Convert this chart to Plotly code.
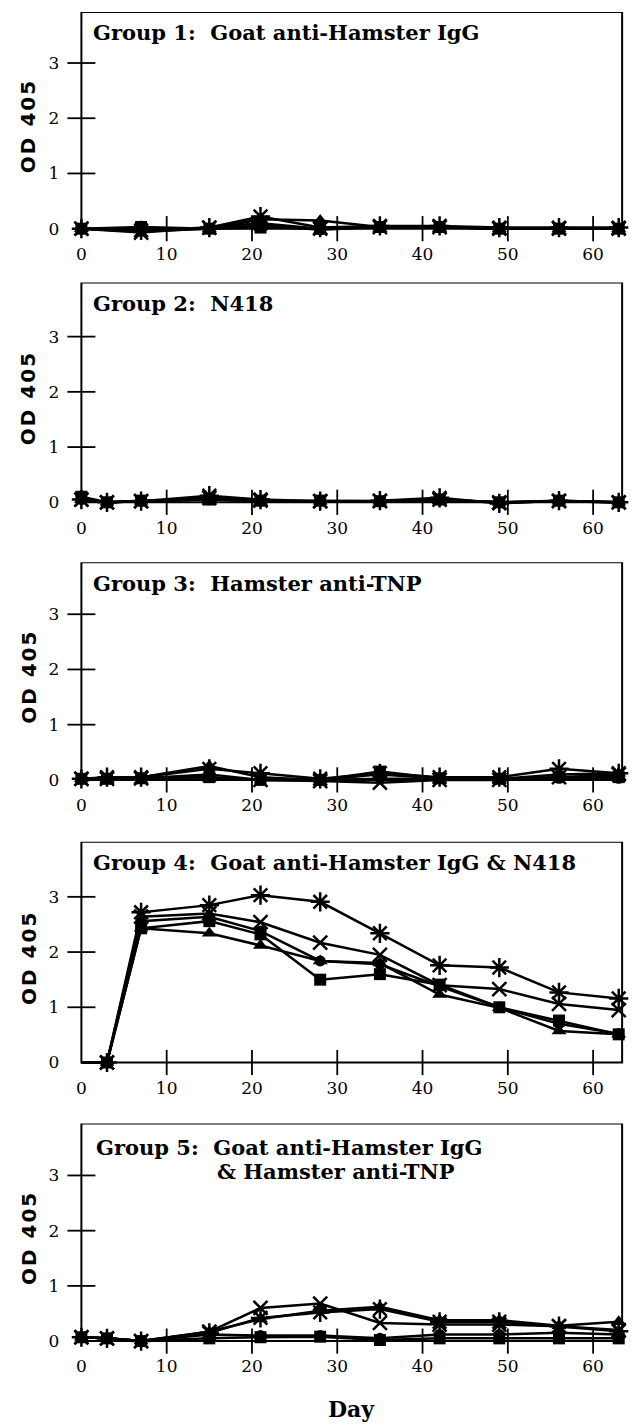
import plotly.graph_objects as go

# ---- data -------------------------------------------------------------
DAYS_G1 = [0, 7, 15, 21, 28, 35, 42, 49, 56, 63]
DAYS = [0, 3, 7, 15, 21, 28, 35, 42, 49, 56, 63]

G1_SQUARE = [0, 0.03, 0.0, 0.02, 0.0, 0.03, 0.03, 0.0, 0.0, 0.0]
G1_TRIANGLE = [0, -0.02, 0.0, 0.17, 0.15, 0.03, 0.03, 0.0, 0.0, 0.0]
G1_CROSS = [0, -0.07, 0.02, 0.10, 0.0, 0.03, 0.03, 0.0, 0.0, 0.0]
G1_STAR = [0, -0.03, 0.02, 0.22, 0.02, 0.05, 0.05, 0.02, 0.02, 0.02]
G1_CIRCLE = [0, -0.05, 0.0, 0.06, -0.02, 0.03, 0.02, 0.0, 0.0, 0.0]

G2_SQUARE = [0.10, 0.0, 0.03, 0.05, 0.03, 0.03, 0.02, 0.05, 0.0, 0.03, 0.0]
G2_TRIANGLE = [0.05, 0.0, 0.02, 0.05, 0.02, 0.02, 0.02, 0.04, 0.0, 0.02, 0.0]
G2_CROSS = [0.05, 0.0, 0.02, 0.08, 0.03, 0.02, 0.02, 0.05, 0.0, 0.02, 0.0]
G2_STAR = [0.05, 0.0, 0.02, 0.12, 0.05, 0.02, 0.03, 0.08, -0.02, 0.03, 0.0]
G2_CIRCLE = [0.05, 0.0, 0.02, 0.06, 0.02, 0.02, 0.02, 0.04, 0.0, 0.02, 0.0]

G3_SQUARE = [0.02, 0.02, 0.03, 0.05, 0.0, 0.0, 0.15, 0.03, 0.02, 0.05, 0.05]
G3_TRIANGLE = [0.02, 0.02, 0.05, 0.25, 0.05, 0.0, 0.10, 0.03, 0.02, 0.10, 0.12]
G3_CROSS = [0.02, 0.02, 0.03, 0.10, 0.0, -0.02, -0.05, 0.0, 0.0, 0.05, 0.10]
G3_STAR = [0.02, 0.05, 0.05, 0.20, 0.12, 0.02, 0.12, 0.05, 0.05, 0.20, 0.12]
G3_CIRCLE = [0.02, 0.02, 0.03, 0.05, 0.0, 0.0, 0.02, 0.02, 0.02, 0.03, 0.03]

G4_SQUARE = [0, 0, 2.43, 2.56, 2.32, 1.50, 1.60, 1.41, 1.00, 0.76, 0.51]
G4_TRIANGLE = [0, 0, 2.43, 2.34, 2.12, 1.84, 1.80, 1.23, 0.99, 0.57, 0.51]
G4_CROSS = [0, 0, 2.64, 2.70, 2.54, 2.17, 1.95, 1.40, 1.33, 1.06, 0.95]
G4_STAR = [0, 0, 2.72, 2.85, 3.03, 2.91, 2.34, 1.76, 1.72, 1.27, 1.16]
G4_CIRCLE = [0, 0, 2.56, 2.64, 2.38, 1.84, 1.78, 1.38, 1.00, 0.70, 0.52]

G5_SQUARE = [0.07, 0.05, 0.0, 0.05, 0.07, 0.08, 0.02, 0.05, 0.05, 0.05, 0.05]
G5_TRIANGLE = [0.07, 0.05, 0.0, 0.17, 0.40, 0.55, 0.62, 0.38, 0.38, 0.28, 0.35]
G5_CROSS = [0.07, 0.05, 0.0, 0.17, 0.60, 0.68, 0.33, 0.30, 0.30, 0.27, 0.20]
G5_STAR = [0.07, 0.05, 0.0, 0.15, 0.42, 0.52, 0.58, 0.35, 0.35, 0.27, 0.18]
G5_CIRCLE = [0.07, 0.05, 0.0, 0.12, 0.10, 0.10, 0.05, 0.12, 0.12, 0.15, 0.12]

PANEL_TITLES = [
    ["Group 1:  Goat anti-Hamster IgG"],
    ["Group 2:  N418"],
    ["Group 3:  Hamster anti-TNP"],
    ["Group 4:  Goat anti-Hamster IgG & N418"],
    ["Group 5:  Goat anti-Hamster IgG", "& Hamster anti-TNP"],
]
X_TICKS = [0, 10, 20, 30, 40, 50, 60]
Y_TICKS = [0, 1, 2, 3]

PANELS = [
    (DAYS_G1, [G1_SQUARE, G1_TRIANGLE, G1_CROSS, G1_STAR, G1_CIRCLE]),
    (DAYS, [G2_SQUARE, G2_TRIANGLE, G2_CROSS, G2_STAR, G2_CIRCLE]),
    (DAYS, [G3_SQUARE, G3_TRIANGLE, G3_CROSS, G3_STAR, G3_CIRCLE]),
    (DAYS, [G4_SQUARE, G4_TRIANGLE, G4_CROSS, G4_STAR, G4_CIRCLE]),
    (DAYS, [G5_SQUARE, G5_TRIANGLE, G5_CROSS, G5_STAR, G5_CIRCLE]),
]
# group 4 curves start at the axis without a symbol on day 0
HIDE_FIRST_MARKER = [False, False, False, True, False]

# ---- styling -----------------------------------------------------------
W, H = 637, 1425
SERIF = "DejaVu Serif"
MARKERS = [
    dict(symbol="square", size=12, line=dict(width=0)),
    dict(symbol="triangle-up", size=13, line=dict(width=0)),
    dict(symbol="x-thin-open", size=14, line=dict(width=2.5, color="black")),
    dict(symbol="asterisk-open", size=16, line=dict(width=2.5, color="black")),
    dict(symbol="circle", size=11, line=dict(width=0)),
]

# pixel layout of each panel: (frame top, zero line)
FRAME_PX = [(12, 229), (283, 503), (563, 781), (843, 1064), (1125, 1343)]
LEFT_PX, RIGHT_PX = 77, 622
UNIT_PX = 55.3
Y_MIN = -0.15
X_RANGE = [0, 63.4]
TITLE_X_PX = [[87], [87], [87], [87], [90, 212]]

fig = go.Figure()
shapes, annotations = [], []
layout = {}

for i, ((days, series), (top, zero)) in enumerate(zip(PANELS, FRAME_PX)):
    n = "" if i == 0 else str(i + 1)
    xa, ya = "x" + n, "y" + n
    y_max = (zero - top) / UNIT_PX
    bottom = zero - Y_MIN * UNIT_PX
    layout["xaxis" + n] = dict(
        domain=[LEFT_PX / W, RIGHT_PX / W], range=X_RANGE, anchor=ya,
        showgrid=False, zeroline=False, showline=False, ticks="",
        tickvals=X_TICKS, ticktext=[str(t) for t in X_TICKS],
        tickfont=dict(family=SERIF, size=17, color="black"),
        ticklabelstandoff=5, fixedrange=True,
    )
    layout["yaxis" + n] = dict(
        domain=[1 - bottom / H, 1 - top / H], range=[Y_MIN, y_max], anchor=xa,
        showgrid=False, zeroline=False, showline=False, ticks="",
        tickvals=Y_TICKS, ticktext=[str(t) for t in Y_TICKS],
        tickfont=dict(family=SERIF, size=17, color="black"),
        ticklabelstandoff=21, fixedrange=True,
    )
    # frame: left, right and top edges plus the baseline at OD = 0
    shapes.append(dict(type="rect", xref=xa + " domain", yref=ya,
                       x0=0, x1=1, y0=0, y1=y_max,
                       line=dict(color="black", width=2)))
    # crossing tick marks
    fig.add_trace(go.Scatter(
        x=X_TICKS[1:], y=[0] * (len(X_TICKS) - 1), xaxis=xa, yaxis=ya,
        mode="markers", cliponaxis=False, hoverinfo="skip", showlegend=False,
        marker=dict(symbol="line-ns-open", size=18, color="black",
                    line=dict(width=1.8, color="black"))))
    fig.add_trace(go.Scatter(
        x=[0] * (len(Y_TICKS) - 1), y=Y_TICKS[1:], xaxis=xa, yaxis=ya,
        mode="markers", cliponaxis=False, hoverinfo="skip", showlegend=False,
        marker=dict(symbol="line-ew-open", size=20, color="black",
                    line=dict(width=1.8, color="black"))))
    for vals, mk in zip(series, MARKERS):
        mk = dict(mk)
        if HIDE_FIRST_MARKER[i]:
            mk["size"] = [0] + [mk["size"]] * (len(days) - 1)
        fig.add_trace(go.Scatter(
            x=days, y=vals, xaxis=xa, yaxis=ya, mode="lines+markers",
            cliponaxis=False, showlegend=False,
            line=dict(color="black", width=2.5),
            marker=dict(color="black", opacity=1, sizemode="diameter", **mk)))
    # panel title
    n_lines = len(PANEL_TITLES[i])
    for k, line in enumerate(PANEL_TITLES[i]):
        annotations.append(dict(
            text=line, xref="paper", yref="paper",
            x=TITLE_X_PX[i][k] / W,
            y=1 - (top + 21 + 24 * k + (3 if n_lines > 1 else 0)) / H,
            xanchor="left", yanchor="middle", showarrow=False,
            font=dict(family=SERIF, size=21, color="black", weight="bold")))
    # y-axis title
    annotations.append(dict(
        text='<span style="letter-spacing:2px">OD 405</span>',
        xref="paper", yref="paper",
        x=24 / W, y=1 - ((top + zero) / 2 + 6) / H, textangle=-90,
        xanchor="center", yanchor="middle", showarrow=False,
        font=dict(family="DejaVu Sans", size=20, color="black", weight="bold")))

annotations.append(dict(
    text="Day", xref="paper", yref="paper", x=349 / W, y=1 - 1411 / H,
    xanchor="center", yanchor="middle", showarrow=False,
    font=dict(family=SERIF, size=22, color="black", weight="bold")))

fig.update_layout(
    width=W, height=H, margin=dict(l=0, r=0, t=0, b=0),
    paper_bgcolor="white", plot_bgcolor="white",
    shapes=shapes, annotations=annotations, showlegend=False, **layout)

fig.write_html("out.html")
